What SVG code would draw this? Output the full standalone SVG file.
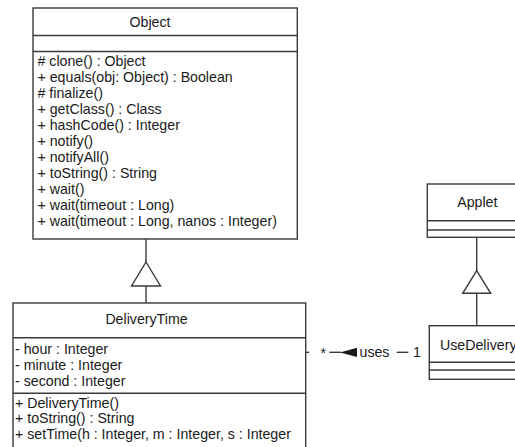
<svg xmlns="http://www.w3.org/2000/svg" width="515" height="447" viewBox="0 0 515 447">
  <defs>
    <style>
      .box { fill: #ffffff; stroke: #3a3a3a; stroke-width: 1.4; }
      .div { stroke: #3a3a3a; stroke-width: 1.4; fill: none; }
      .edge { stroke: #3a3a3a; stroke-width: 1.4; fill: none; }
      .gen { fill: #ffffff; stroke: #3a3a3a; stroke-width: 1.4; }
      .head { fill: #1a1a1a; stroke: none; }
      text { font-family: "Liberation Sans", Arial, sans-serif; font-size: 14.2px; fill: #1a1a1a; }
      .title { text-anchor: middle; }
    </style>
  </defs>
  <rect width="515" height="447" fill="#ffffff"/>

  <!-- Object class -->
  <g id="object">
    <rect class="box" x="33" y="8" width="264.3" height="231"/>
    <line class="div" x1="33" y1="35.5" x2="297.3" y2="35.5"/>
    <line class="div" x1="33" y1="51.5" x2="297.3" y2="51.5"/>
    <text class="title" x="150" y="27">Object</text>
    <text x="37.5" y="65.5"># clone() : Object</text>
    <text x="37.5" y="81.5">+ equals(obj: Object) : Boolean</text>
    <text x="37.5" y="97.5"># finalize()</text>
    <text x="37.5" y="113.5">+ getClass() : Class</text>
    <text x="37.5" y="129.5">+ hashCode() : Integer</text>
    <text x="37.5" y="145.5">+ notify()</text>
    <text x="37.5" y="161.5">+ notifyAll()</text>
    <text x="37.5" y="177.5">+ toString() : String</text>
    <text x="37.5" y="193.5">+ wait()</text>
    <text x="37.5" y="209.5">+ wait(timeout : Long)</text>
    <text x="37.5" y="225.5">+ wait(timeout : Long, nanos : Integer)</text>
  </g>

  <!-- DeliveryTime class -->
  <g id="deliverytime">
    <rect class="box" x="13" y="303" width="292.7" height="160"/>
    <line class="div" x1="13" y1="337.7" x2="305.7" y2="337.7"/>
    <line class="div" x1="13" y1="393.3" x2="305.7" y2="393.3"/>
    <text class="title" x="146.5" y="324">DeliveryTime</text>
    <text x="15" y="353.5">- hour : Integer</text>
    <text x="15" y="369.5">- minute : Integer</text>
    <text x="15" y="385.5">- second : Integer</text>
    <text x="15" y="407.5">+ DeliveryTime()</text>
    <text x="15" y="423">+ toString() : String</text>
    <text x="15" y="438.5">+ setTime(h : Integer, m : Integer, s : Integer</text>
  </g>

  <!-- Applet class -->
  <g id="applet">
    <rect class="box" x="427.3" y="184" width="110" height="53.3"/>
    <line class="div" x1="427.3" y1="220.7" x2="537.3" y2="220.7"/>
    <line class="div" x1="427.3" y1="230" x2="537.3" y2="230"/>
    <text class="title" x="477.3" y="207">Applet</text>
  </g>

  <!-- UseDelivery class -->
  <g id="usedelivery">
    <rect class="box" x="429.3" y="325.7" width="110" height="53.6"/>
    <line class="div" x1="429.3" y1="362.3" x2="539.3" y2="362.3"/>
    <line class="div" x1="429.3" y1="370" x2="539.3" y2="370"/>
    <text x="440" y="350">UseDelivery</text>
  </g>

  <!-- Connectors -->
  <g id="connectors">
    <!-- DeliveryTime generalizes Object -->
    <line class="edge" x1="146" y1="239" x2="146" y2="262"/>
    <polygon class="gen" points="146,262 160.5,286 131.5,286"/>
    <line class="edge" x1="146" y1="286" x2="146" y2="303"/>

    <!-- UseDelivery generalizes Applet -->
    <line class="edge" x1="476.7" y1="237.3" x2="476.7" y2="270.7"/>
    <polygon class="gen" points="476.7,270.7 490.7,293.3 462.7,293.3"/>
    <line class="edge" x1="476.7" y1="293.3" x2="476.7" y2="325.7"/>

    <!-- uses association -->
    <line class="edge" x1="305.7" y1="352.3" x2="309" y2="352.3"/>
    <text x="320.5" y="358">*</text>
    <line class="edge" x1="329.3" y1="352.3" x2="341" y2="352.3"/>
    <polygon class="head" points="340,352.5 357,347.8 357,357"/>
    <text x="359.5" y="357">uses</text>
    <line class="edge" x1="396.7" y1="352.3" x2="408.3" y2="352.3"/>
    <text x="413" y="357">1</text>
  </g>
</svg>
